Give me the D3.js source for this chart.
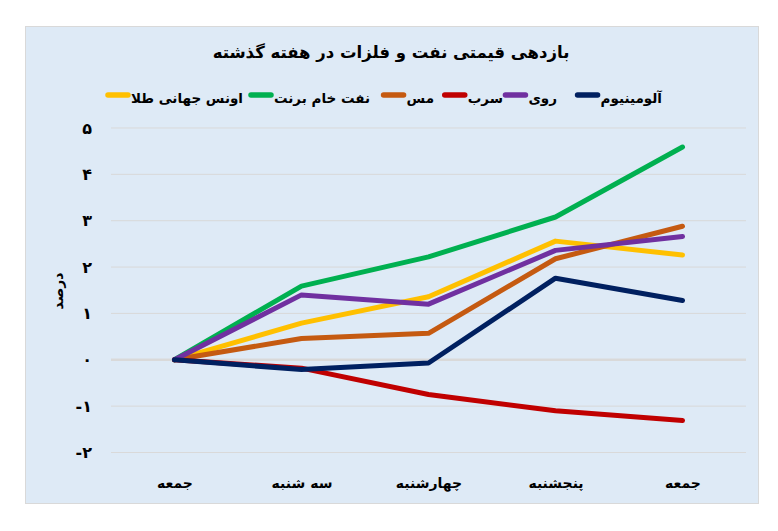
<!DOCTYPE html>
<html>
<head>
<meta charset="utf-8">
<script src="https://cdn.jsdelivr.net/npm/d3@7"></script>
<style>
  html, body { margin: 0; padding: 0; background: #ffffff; }
  svg text { font-family: "DejaVu Sans", sans-serif; font-weight: bold; fill: #000; }
</style>
</head>
<body>
<svg id="chart" width="778" height="531"></svg>
<script>
const categories = ["جمعه", "سه شنبه", "چهارشنبه", "پنجشنبه", "جمعه"];
const seriesNames = ["اونس جهانی طلا", "نفت خام برنت", "مس", "سرب", "روی", "آلومینیوم"];
const seriesColors = ["#FFC000", "#00B050", "#C55A11", "#C00000", "#7030A0", "#002060"];
const gold     = [0, 0.79, 1.36, 2.56, 2.26];
const brent    = [0, 1.59, 2.22, 3.08, 4.59];
const copper   = [0, 0.46, 0.57, 2.18, 2.88];
const lead     = [0, -0.18, -0.75, -1.10, -1.31];
const zinc     = [0, 1.40, 1.20, 2.36, 2.66];
const aluminum = [0, -0.21, -0.07, 1.76, 1.28];
const yTicks = [-2, -1, 0, 1, 2, 3, 4, 5];
const yTickLabels = ["-۲", "-۱", "۰", "۱", "۲", "۳", "۴", "۵"];
const title = "بازدهی قیمتی نفت و فلزات در هفته گذشته";
const yTitle = "درصد";

const seriesValues = [gold, brent, copper, lead, zinc, aluminum];

const svg = d3.select("#chart");

// chart background
svg.append("rect")
  .attr("x", 25.5).attr("y", 26.5)
  .attr("width", 733).attr("height", 477)
  .attr("fill", "#DEEAF6")
  .attr("stroke", "#D9D9D9").attr("stroke-width", 1);

const x = d3.scalePoint()
  .domain(d3.range(categories.length))
  .range([111, 746])
  .padding(0.5);

const y = d3.scaleLinear()
  .domain([-2, 5])
  .range([452.5, 128]);

// gridlines
svg.append("g").selectAll("line")
  .data(yTicks)
  .join("line")
  .attr("x1", 111).attr("x2", 746)
  .attr("y1", d => y(d)).attr("y2", d => y(d))
  .attr("stroke", "#D9D9D9")
  .attr("stroke-width", d => d === 0 ? 2.5 : 1);

// y axis labels
const yAxis = d3.axisLeft(y)
  .tickValues(yTicks)
  .tickSize(0)
  .tickPadding(0)
  .tickFormat((d, i) => yTickLabels[i]);
const gy = svg.append("g").attr("transform", "translate(92,0)").call(yAxis);
gy.select(".domain").remove();
gy.selectAll("text")
  .attr("font-size", 16)
  .attr("font-family", "DejaVu Sans")
  .attr("font-weight", "bold")
  .attr("fill", "#000")
  .attr("direction", "ltr");

// x axis labels
const xAxis = d3.axisBottom(x)
  .tickSize(0)
  .tickPadding(0)
  .tickFormat(i => categories[i]);
const gx = svg.append("g").attr("transform", "translate(0,478)").call(xAxis);
gx.select(".domain").remove();
gx.selectAll("text")
  .attr("font-size", 14)
  .attr("font-family", "DejaVu Sans")
  .attr("font-weight", "bold")
  .attr("fill", "#000");

// lines
const line = d3.line()
  .x((d, i) => x(i))
  .y(d => y(d));

svg.append("g").selectAll("path")
  .data(seriesValues)
  .join("path")
  .attr("d", d => line(d))
  .attr("fill", "none")
  .attr("stroke", (d, i) => seriesColors[i])
  .attr("stroke-width", 5)
  .attr("stroke-linecap", "round")
  .attr("stroke-linejoin", "round");

// title
svg.append("text")
  .attr("x", 391).attr("y", 58)
  .attr("text-anchor", "middle")
  .attr("font-size", 16.5)
  .attr("direction", "rtl")
  .text(title);

// y title
svg.append("text")
  .attr("transform", "translate(63,291) rotate(-90)")
  .attr("text-anchor", "middle")
  .attr("font-size", 14)
  .attr("direction", "rtl")
  .text(yTitle);

// legend (right to left): text right edges; swatch placed just left of each text
const legendOrder = [5, 4, 3, 2, 1, 0];
const legendTextRight = [662, 557, 503, 434, 370, 243];
const lg = svg.append("g");
legendOrder.forEach((si, k) => {
  const tr = legendTextRight[k];
  const t = lg.append("text")
    .attr("x", tr).attr("y", 103)
    .attr("text-anchor", "start")
    .attr("direction", "rtl")
    .attr("font-size", 13.5)
    .text(seriesNames[si]);
  const w = t.node().getComputedTextLength();
  const sx2 = tr - w - 1;
  lg.append("line")
    .attr("x1", sx2 - 22).attr("x2", sx2 - 2)
    .attr("y1", 95).attr("y2", 95)
    .attr("stroke", seriesColors[si])
    .attr("stroke-width", 5.5)
    .attr("stroke-linecap", "round");
});
</script>
</body>
</html>
